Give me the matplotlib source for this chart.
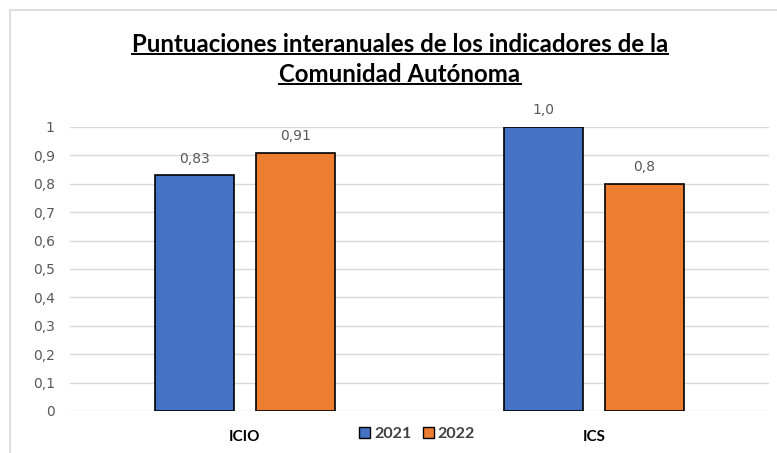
import numpy as np
import matplotlib
matplotlib.use("Agg")
import matplotlib.pyplot as plt
from matplotlib.patches import Rectangle, Patch
from matplotlib.lines import Line2D

# Chart data
categories = ["ICIO", "ICS"]
years = ["2021", "2022"]
values_2021 = [0.83, 1.0]
values_2022 = [0.91, 0.8]
labels_2021 = ["0,83", "1,0"]
labels_2022 = ["0,91", "0,8"]
yticks = [0, 0.1, 0.2, 0.3, 0.4, 0.5, 0.6, 0.7, 0.8, 0.9, 1]
ytick_labels = ["0", "0,1", "0,2", "0,3", "0,4", "0,5", "0,6", "0,7", "0,8", "0,9", "1"]

blue = "#4472c4"
orange = "#ed7d31"
grey_text = "#595959"
label_font = "DejaVu Sans"
title_font = "Lato"

fig = plt.figure(figsize=(7.77, 4.53), dpi=100)
W, H = 777, 453

# outer chart border
fig.patches.append(Rectangle((10 / W, -0.05), 1.0, 1 - 10 / H + 0.05, transform=fig.transFigure,
                             fill=False, edgecolor="#d9d9d9", linewidth=1.2))

ax = fig.add_axes([70 / W, 1 - 411 / H, 699 / W, 284 / H])

x = np.arange(len(categories))
width = 0.226
off = 0.144
b1 = ax.bar(x - off, values_2021, width, color=blue, edgecolor="black", linewidth=1.2, zorder=3)
b2 = ax.bar(x + off, values_2022, width, color=orange, edgecolor="black", linewidth=1.2, zorder=3)

for rect, lab in zip(b1, labels_2021):
    ax.annotate(lab, (rect.get_x() + rect.get_width() / 2, rect.get_height()),
                xytext=(0, 7), textcoords="offset points", ha="center", va="bottom",
                fontsize=10, color=grey_text, family=label_font)
for rect, lab in zip(b2, labels_2022):
    ax.annotate(lab, (rect.get_x() + rect.get_width() / 2, rect.get_height()),
                xytext=(0, 7), textcoords="offset points", ha="center", va="bottom",
                fontsize=10, color=grey_text, family=label_font)

ax.set_xlim(-0.5, 1.5)
ax.set_ylim(0, 1)
ax.set_yticks(yticks)
ax.set_yticklabels(ytick_labels, fontsize=10, color=grey_text, family=label_font)
ax.yaxis.grid(True, color="#d9d9d9", linewidth=1)
ax.set_axisbelow(True)
for s in ax.spines.values():
    s.set_visible(False)
ax.tick_params(axis="y", length=0, pad=11)
ax.tick_params(axis="x", length=0, pad=14)
ax.set_xticks(x)
ax.set_xticklabels(categories, fontsize=11, fontweight="bold", color="black", family=title_font)

# legend
handles = [Patch(facecolor=blue, edgecolor="black", label=years[0]),
           Patch(facecolor=orange, edgecolor="black", label=years[1])]
leg = fig.legend(handles=handles, loc="center", bbox_to_anchor=(417 / W, 1 - 434 / H), ncol=2,
                 frameon=False, handlelength=0.7, handleheight=0.7,
                 handletextpad=0.25, columnspacing=0.7,
                 prop={"weight": "bold", "size": 11.5, "family": title_font})
for t in leg.get_texts():
    t.set_color("#404040")

# underlined title
t1 = fig.text(400 / W, 1 - 45 / H, "Puntuaciones interanuales de los indicadores de la",
              ha="center", va="center", fontsize=17.3, fontweight="bold", family=title_font)
t2 = fig.text(400 / W, 1 - 75 / H, "Comunidad Autónoma",
              ha="center", va="center", fontsize=17.3, fontweight="bold", family=title_font)
fig.canvas.draw()
r = fig.canvas.get_renderer()
for t in (t1, t2):
    bb = t.get_window_extent(renderer=r).transformed(fig.transFigure.inverted())
    yl = bb.y0 + 0.006
    fig.add_artist(Line2D([bb.x0, bb.x1], [yl, yl], transform=fig.transFigure,
                          color="black", linewidth=1.4))

fig.savefig("out.png", dpi=100)
